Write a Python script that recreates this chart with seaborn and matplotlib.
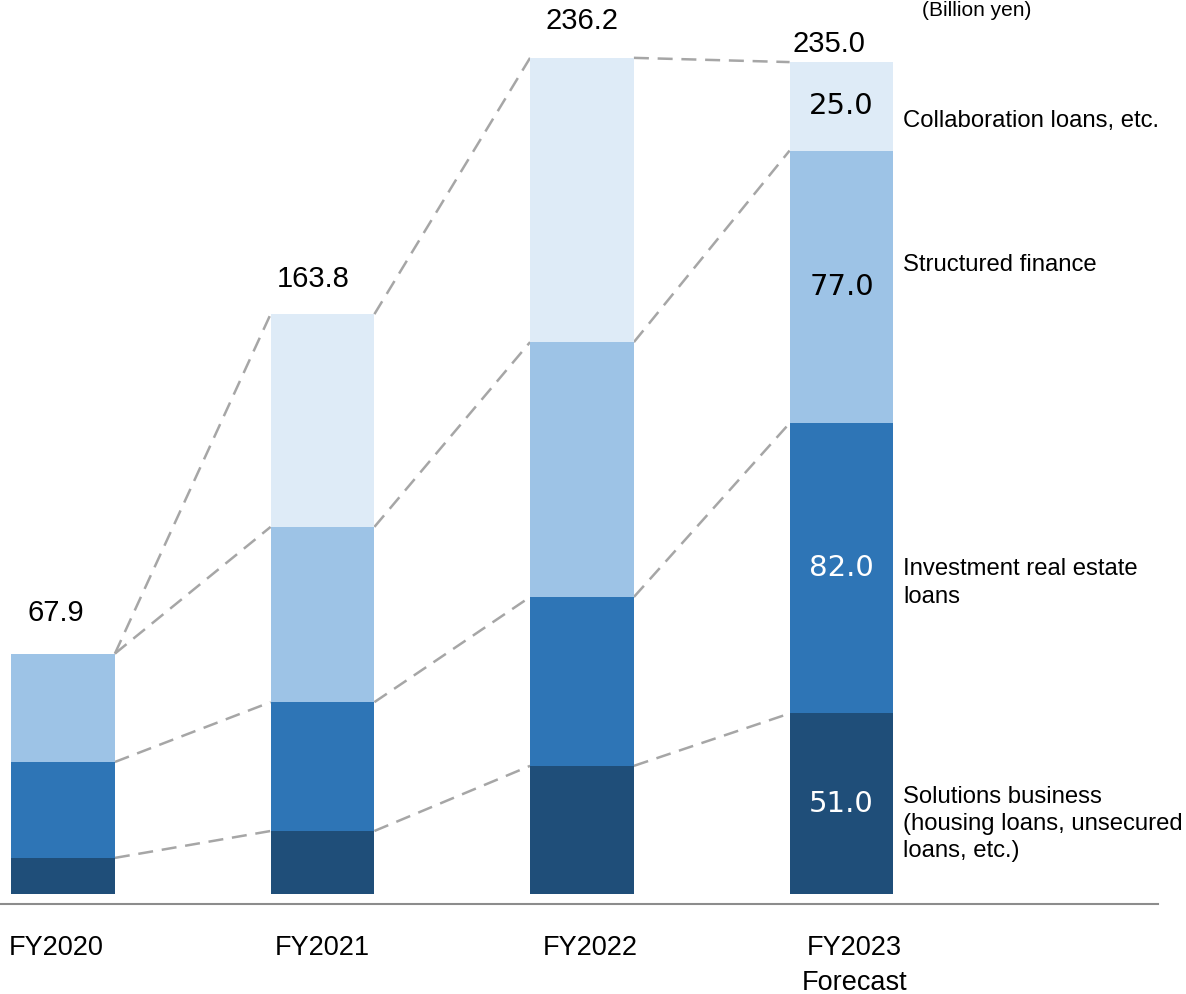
import numpy as np
import pandas as pd
import matplotlib
matplotlib.use("Agg")
import matplotlib.pyplot as plt
import seaborn as sns

# ---- data ----
years = ["FY2020", "FY2021", "FY2022", "FY2023\nForecast"]
segments = ["Solutions business\n(housing loans, unsecured\nloans, etc.)",
            "Investment real estate\nloans",
            "Structured finance",
            "Collaboration loans, etc."]
solutions = [10.2, 17.8, 36.2, 51.0]
investment = [27.1, 36.4, 47.7, 82.0]
structured = [30.6, 49.5, 72.0, 77.0]
collaboration = [0.0, 60.1, 80.3, 25.0]
totals = ["67.9", "163.8", "236.2", "235.0"]
unit_label = "(Billion yen)"

colors = ["#1F4E79", "#2E75B6", "#9DC3E6", "#DEEBF7"]

sns.set_theme(style="white")
plt.rcParams["font.family"] = ["Liberation Sans", "DejaVu Sans"]

W, H = 1186, 994
fig = plt.figure(figsize=(W / 100, H / 100), dpi=100)
# axes: bottom at the baseline line (px 904), top at px 0, left px 0, right px 1158
ax = fig.add_axes([0, (H - 904) / H, 1158 / W, 904 / H])

pxu = 3.54          # px per unit
xs = 259.5          # px per category
x0 = 63.0           # px of first bar centre

series = [solutions, investment, structured, collaboration]
df = pd.DataFrame({"year": years})
bottom = np.zeros(len(years))
cums = []
for name, vals, col in zip(segments, series, colors):
    vals = np.array(vals, dtype=float)
    d = df.copy()
    d["value"] = vals
    sns.barplot(data=d, x="year", y="value", color=col, width=0.4,
                bottom=bottom, ax=ax, edgecolor="none", linewidth=0,
                saturation=1, errorbar=None)
    bottom = bottom + vals
    cums.append(bottom.copy())

ax.set_xlim(-x0 / xs, (1158 - x0) / xs)
ax.set_ylim(-10 / pxu, 894 / pxu)

# dashed connector lines between bar corners
hw = 0.2
for cum in cums:
    for i in range(len(years) - 1):
        ax.plot([i + hw, i + 1 - hw], [cum[i], cum[i + 1]], color="#A6A6A6",
                lw=1.8, ls=(0, (6, 3.5)), zorder=0.5)

# total labels above bars
tot_dy = [11.6, 9.9, 10.5, 5.1]
tot_dx = [-0.027, -0.037, 0.0, -0.048]
for i, t in enumerate(totals):
    ax.text(i + tot_dx[i], cums[-1][i] + tot_dy[i], t, ha="center", va="center",
            fontsize=21, color="black")

# segment values on forecast bar
last = len(years) - 1
seg_vals = [s[last] for s in series]
prev = 0.0
seg_txt_colors = ["white", "white", "black", "black"]
for v, c in zip(seg_vals, seg_txt_colors):
    ax.text(last, prev + v / 2, f"{v:.1f}", ha="center", va="center",
            fontsize=21, color=c, family="DejaVu Sans")
    prev += v

# right-side category labels
lab_x = (903 - x0) / xs
lab_y = [(894 - 824) / pxu, (894 - 583) / pxu, (894 - 265) / pxu, (894 - 121) / pxu]
for name, y in zip(segments, lab_y):
    ax.text(lab_x, y, name, ha="left", va="center", fontsize=17.2,
            color="black", linespacing=1.3)

# unit label (top right)
fig.text(922 / W, 0.999, unit_label, ha="left", va="top", fontsize=15, color="black")

# axis styling
ax.set_xlabel("")
ax.set_ylabel("")
ax.set_yticks([])
ax.set_xticks([-0.027, 1.0, 2.03, 3.05])
ax.set_xticklabels(years, fontsize=19.5, linespacing=1.45, color="black")
ax.tick_params(axis="x", length=0, pad=22)
for s in ["top", "right", "left"]:
    ax.spines[s].set_visible(False)
ax.spines["bottom"].set_color("#8C8C8C")
ax.spines["bottom"].set_linewidth(1.5)
ax.set_facecolor("white")
fig.patch.set_facecolor("white")

fig.savefig("out.png", dpi=100, facecolor="white")
